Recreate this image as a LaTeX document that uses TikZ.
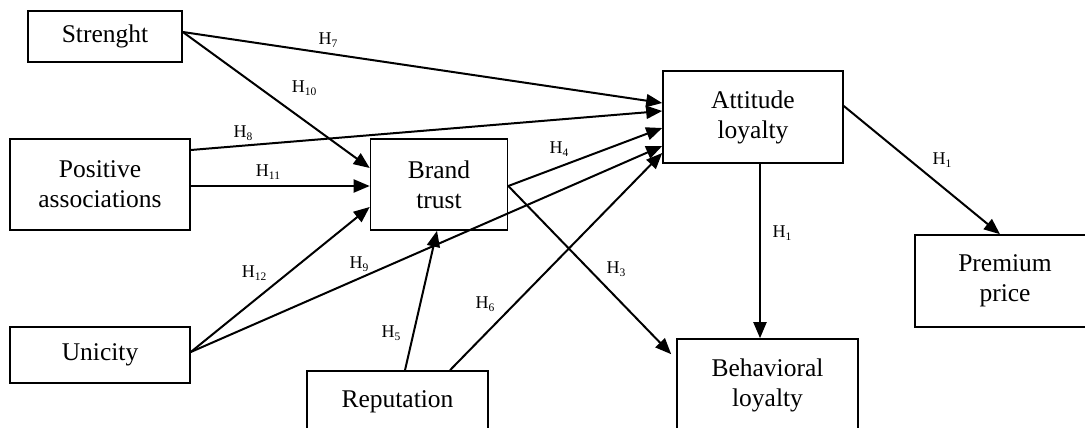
\documentclass[tikz,border=0pt]{standalone}
\usepackage{fontspec}
\setmainfont{Liberation Serif}
\usetikzlibrary{arrows.meta}
% hypothesis label: H with a lowered index
\newcommand{\hyp}[1]{H\raisebox{-3.5pt}{\fontsize{11.5}{11.5}\selectfont #1}}

\begin{document}
\begin{tikzpicture}[x=1pt,y=-1pt,
  box/.style={draw, line width=1.6pt, rectangle, inner sep=0pt, align=center,
              font=\fontsize{25.5}{30}\selectfont},
  link/.style={line width=2pt, -{Triangle[length=16pt,width=13pt]}},
  hlbl/.style={inner sep=0pt, font=\fontsize{18}{18}\selectfont}]
\useasboundingbox (0,0) rectangle (1085,428);
\clip (0,0) rectangle (1085,428);

% constructs
\node[box, minimum width=154pt, minimum height=51pt] (S) at (105,36.5) {Strenght};
\node[box, minimum width=180pt, minimum height=91pt] (P) at (100,184.5) {Positive\\associations};
\node[box, minimum width=180pt, minimum height=56pt] (U) at (100,355) {Unicity};
\node[box, minimum width=137pt, minimum height=91pt] (B) at (439,184.5) {Brand\\trust};
\node[box, minimum width=181pt, minimum height=62pt] (R) at (397.5,402) {Reputation};
\node[box, minimum width=180pt, minimum height=92pt] (A) at (753,117) {Attitude\\loyalty};
\node[box, minimum width=181pt, minimum height=92pt] (L) at (767.5,385) {Behavioral\\loyalty};
\node[box, minimum width=180pt, minimum height=92pt] (M) at (1005,281) {Premium\\price};

% hypothesised paths
\draw[link] ([yshift=4.5pt]S.east) -- ([yshift=14pt]A.west);
\draw[link] ([yshift=4.5pt]S.east) -- ([yshift=16.5pt]B.west);
\draw[link] ([yshift=34.5pt]P.east) -- ([yshift=6pt]A.west);
\draw[link] ([yshift=-1.5pt]P.east) -- ([yshift=-1.5pt]B.west);
\draw[link] ([yshift=3pt]U.east) -- ([yshift=-22.5pt]B.west);
\draw[link] ([yshift=3pt]U.east) -- ([yshift=-29pt]A.west);
\draw[link] ([xshift=7.5pt]R.north) -- ([xshift=-2pt]B.south);
\draw[link] ([xshift=52.5pt]R.north) -- ([yshift=-36pt]A.west);
\draw[link] ([yshift=-1.5pt]B.east) -- ([yshift=-11pt]A.west);
\draw[link] ([yshift=-1.5pt]B.east) -- ([xshift=-5pt,yshift=-16pt]L.north west);
\draw[link] ([xshift=7pt]A.south) -- ([xshift=7pt]A.south |- L.north);
\draw[link] ([yshift=11pt]A.east) -- ([xshift=-5pt]M.north);

% path labels
\node[hlbl] (h7)  at (328,40)  {\hyp{7}};
\node[hlbl] (h10) at (304,88)  {\hyp{10}};
\node[hlbl] (h8)  at (243,133) {\hyp{8}};
\node[hlbl] (h11) at (268,172) {\hyp{11}};
\node[hlbl] (h12) at (254,273) {\hyp{12}};
\node[hlbl] (h9)  at (359,264) {\hyp{9}};
\node[hlbl] (h5)  at (391,333) {\hyp{5}};
\node[hlbl] (h6)  at (485,304) {\hyp{6}};
\node[hlbl] (h3)  at (616,269) {\hyp{3}};
\node[hlbl] (h4)  at (559,149) {\hyp{4}};
\node[hlbl] (h1a) at (782,233) {\hyp{1}};
\node[hlbl] (h1b) at (942,160) {\hyp{1}};
\end{tikzpicture}
\end{document}
